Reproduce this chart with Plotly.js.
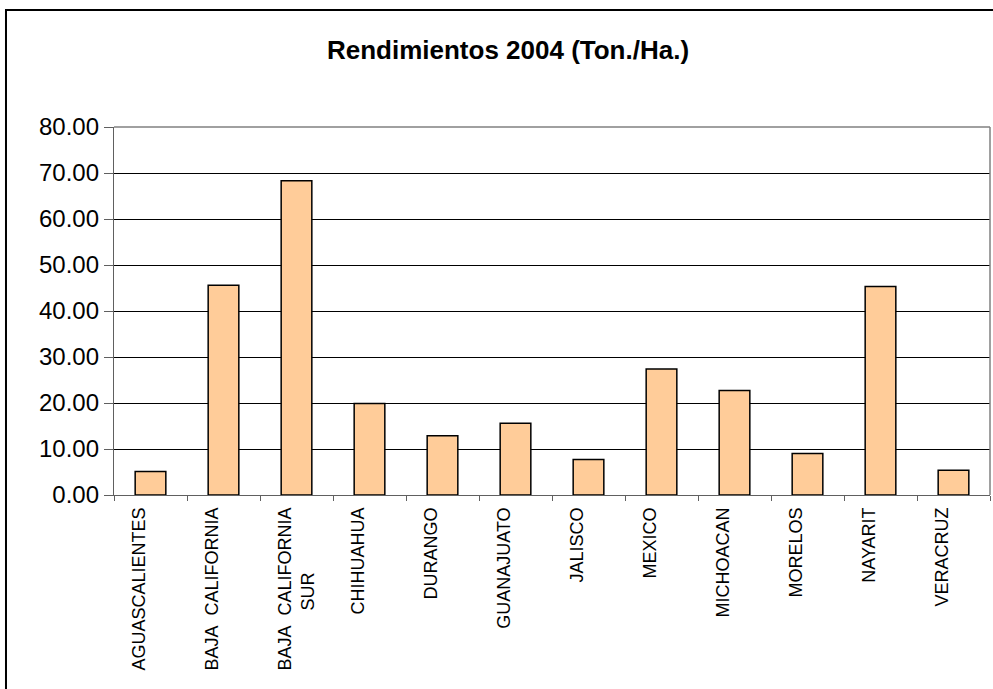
<!DOCTYPE html>
<html>
<head>
<meta charset="utf-8">
<script src="https://cdn.plot.ly/plotly-3.0.1.min.js"></script>
<style>
  html, body { margin: 0; padding: 0; background: #ffffff; }
  #chart { width: 993px; height: 689px; }
</style>
</head>
<body>
<div id="chart"></div>
<script>
// Estados productores (la segunda línea vacía reserva el espacio de dos renglones)
const estados = [
  'AGUASCALIENTES<br> ',
  'BAJA\u00a0\u00a0CALIFORNIA<br> ',
  'BAJA\u00a0\u00a0CALIFORNIA<br>SUR' + '\u00a0'.repeat(13),
  'CHIHUAHUA<br> ',
  'DURANGO<br> ',
  'GUANAJUATO<br> ',
  'JALISCO<br> ',
  'MEXICO<br> ',
  'MICHOACAN<br> ',
  'MORELOS<br> ',
  'NAYARIT<br> ',
  'VERACRUZ<br> '
];

// Rendimiento por estado, toneladas por hectárea
const rendimientos = [5.1, 45.6, 68.3, 19.9, 12.9, 15.6, 7.7, 27.4, 22.7, 9.0, 45.3, 5.4];

// Marcas del eje vertical
const yTicks = [0, 10, 20, 30, 40, 50, 60, 70, 80];

const trace = {
  type: 'bar',
  x: estados,
  y: rendimientos,
  marker: {
    color: '#FFCC99',
    line: { color: '#000000', width: 1.5 }
  },
  hoverinfo: 'x+y'
};

const layout = {
  width: 993,
  height: 689,
  margin: { l: 114, r: 3, t: 127, b: 194, pad: 0 },
  paper_bgcolor: '#ffffff',
  plot_bgcolor: '#ffffff',
  showlegend: false,
  bargap: 0.58,
  font: { family: 'Liberation Sans, Arial, sans-serif', color: '#000000' },
  title: {
    text: '<b>Rendimientos 2004 (Ton./Ha.)</b>',
    font: { family: 'Liberation Sans, Arial, sans-serif', size: 26, color: '#000000' },
    xref: 'container', yref: 'container',
    x: 0.5116, y: 0.928,
    xanchor: 'center', yanchor: 'middle'
  },
  xaxis: {
    type: 'category',
    tickangle: -90,
    tickson: 'boundaries',
    ticks: 'outside',
    ticklen: 5,
    tickwidth: 1,
    tickcolor: '#606060',
    ticklabelstandoff: 4,
    showgrid: false,
    showline: true,
    linecolor: '#606060',
    linewidth: 1.2,
    mirror: false,
    zeroline: false,
    tickfont: { family: 'Liberation Sans, Arial, sans-serif', size: 18, color: '#000000' },
    automargin: false
  },
  yaxis: {
    range: [0, 80],
    tickvals: yTicks,
    tickformat: '.2f',
    ticks: 'outside',
    ticklen: 9,
    tickwidth: 1,
    tickcolor: '#606060',
    showgrid: true,
    gridcolor: '#000000',
    gridwidth: 1,
    showline: true,
    linecolor: '#606060',
    linewidth: 1.2,
    zeroline: false,
    tickfont: { family: 'Liberation Sans, Arial, sans-serif', size: 24, color: '#000000' },
    automargin: false
  },
  shapes: [
    // borde gris del área de trazado (arriba y derecha)
    { type: 'line', xref: 'paper', yref: 'paper', x0: 0, x1: 1, y0: 1, y1: 1,
      line: { color: '#808080', width: 1.5 } },
    { type: 'line', xref: 'paper', yref: 'paper', x0: 1, x1: 1, y0: 0, y1: 1,
      line: { color: '#808080', width: 1.5 } },
    // marco exterior del gráfico
    { type: 'rect', xref: 'paper', yref: 'paper',
      x0: -0.1233, x1: 1.02, y0: -0.57, y1: 1.3179,
      line: { color: '#000000', width: 2 }, fillcolor: 'rgba(0,0,0,0)', layer: 'above' }
  ]
};

Plotly.newPlot('chart', [trace], layout, { displayModeBar: false, staticPlot: true });
</script>
</body>
</html>
